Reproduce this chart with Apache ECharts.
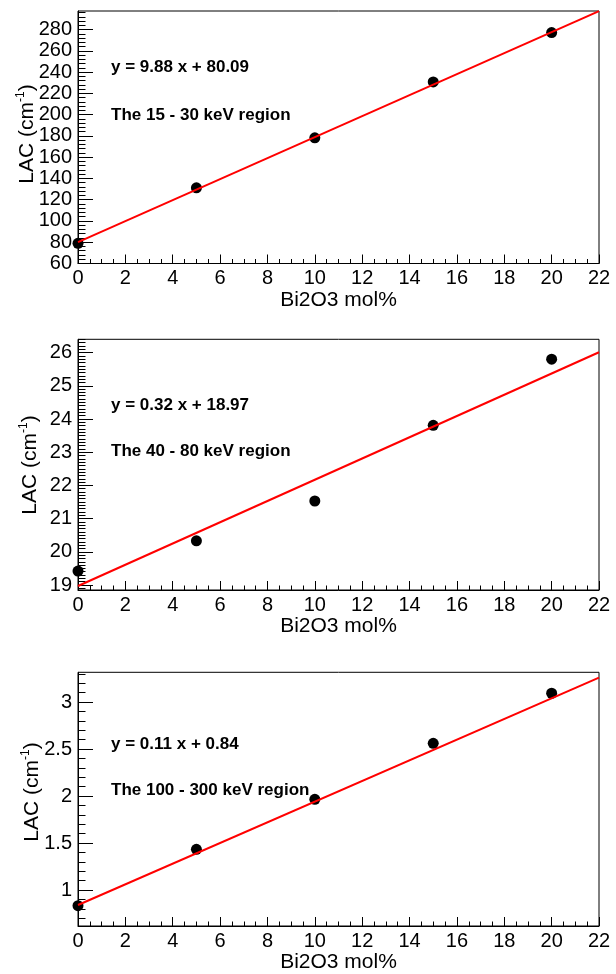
<!DOCTYPE html>
<html>
<head>
<meta charset="utf-8">
<script src="https://cdn.jsdelivr.net/npm/echarts@6/dist/echarts.min.js"></script>
<style>
  html, body { margin: 0; padding: 0; background: #fff; }
  #chart { width: 616px; height: 974px; }
</style>
</head>
<body>
<div id="chart"></div>
<script>
// Bi2O3 content of the glass samples (mol%)
const bi2o3 = [0, 5, 10, 15, 20];

// Linear attenuation coefficients (cm^-1) per energy region
const lacLow  = [79.0, 131.2, 178.2, 230.8, 277.2];   // 15 - 30 keV
const lacMid  = [19.42, 20.33, 21.53, 23.81, 25.80];  // 40 - 80 keV
const lacHigh = [0.833, 1.433, 1.965, 2.560, 3.093];  // 100 - 300 keV

// Linear fits y = slope * x + intercept
const fitLow  = { slope: 9.88, intercept: 80.09 };
const fitMid  = { slope: 0.32, intercept: 18.97 };
const fitHigh = { slope: 0.11, intercept: 0.84 };

const regionLow  = 'The 15 - 30 keV region';
const regionMid  = 'The 40 - 80 keV region';
const regionHigh = 'The 100 - 300 keV region';

// Axis ranges and labelled ticks
const xRange = [0, 22];
const xTicks = [0, 2, 4, 6, 8, 10, 12, 14, 16, 18, 20, 22];
const yRangeLow  = [60, 297.5];
const yRangeMid  = [18.85, 26.4];
const yRangeHigh = [0.617, 3.316];
const yTicksLow  = [60, 80, 100, 120, 140, 160, 180, 200, 220, 240, 260, 280];
const yTicksMid  = [19, 20, 21, 22, 23, 24, 25, 26];
const yTicksHigh = [1, 1.5, 2, 2.5, 3];
const yMinorStepLow = 4, yMinorStepMid = 0.1, yMinorStepHigh = 0.1;

const xTitle = 'Bi2O3 mol%';
const yTitle = '{a|LAC (cm}{s|-1}{a|)}';

const FONT = "'Liberation Sans', Arial, Helvetica, sans-serif";

// evenly spaced minor tick positions inside a range
function minorValues(range, step) {
  const out = [];
  let v = Math.ceil(range[0] / step - 1e-9) * step;
  while (v <= range[1] + 1e-9) {
    out.push(Math.round(v * 1e6) / 1e6);
    v += step;
  }
  return out;
}

const panels = [
  { top: 11,    height: 252.5, y: lacLow,  fit: fitLow,  region: regionLow,  yRange: yRangeLow,  yTicks: yTicksLow,  minor: yMinorStepLow,  textY: [67, 115],      yTitlePos: [27, 134] },
  { top: 339.3, height: 250.7, y: lacMid,  fit: fitMid,  region: regionMid,  yRange: yRangeMid,  yTicks: yTicksMid,  minor: yMinorStepMid,  textY: [405, 451.7],   yTitlePos: [30, 465] },
  { top: 672.3, height: 253.7, y: lacHigh, fit: fitHigh, region: regionHigh, yRange: yRangeHigh, yTicks: yTicksHigh, minor: yMinorStepHigh, textY: [744.3, 790.7], yTitlePos: [32, 792] }
];

// straight segment between two data points, placed through the axes' scales
function renderFitSegment(params, api) {
  const a = api.coord([api.value(0), api.value(1)]);
  const b = api.coord([api.value(2), api.value(3)]);
  return {
    type: 'line',
    shape: { x1: a[0], y1: a[1], x2: b[0], y2: b[1] },
    style: { stroke: '#ff0000', lineWidth: 2 }
  };
}

const grid = [], xAxis = [], yAxis = [], series = [], graphic = [];

panels.forEach((p, i) => {
  grid.push({
    left: 78, width: 521, top: p.top, height: p.height,
    show: true, borderColor: '#000', borderWidth: 1
  });

  xAxis.push({
    type: 'value', gridIndex: i, min: xRange[0], max: xRange[1], interval: 2,
    name: xTitle, nameLocation: 'middle', nameGap: 25,
    nameTextStyle: { fontFamily: FONT, fontSize: 21, color: '#000' },
    axisLine: { show: true, onZero: false, lineStyle: { color: '#000', width: 1 } },
    axisTick: { show: true, inside: true, length: 9, lineStyle: { color: '#000', width: 1 } },
    minorTick: { show: true, splitNumber: 4, length: 4.5, lineStyle: { color: '#000', width: 1 } },
    axisLabel: { fontFamily: FONT, fontSize: 20, color: '#000', margin: 5, customValues: xTicks },
    splitLine: { show: false }
  });

  // major ticks and labels
  yAxis.push({
    type: 'value', gridIndex: i, position: 'left', offset: 0,
    min: p.yRange[0], max: p.yRange[1],
    axisLine: { show: true, onZero: false, lineStyle: { color: '#000', width: 1 } },
    axisTick: { show: true, inside: true, length: 15, customValues: p.yTicks, lineStyle: { color: '#000', width: 1 } },
    axisLabel: { fontFamily: FONT, fontSize: 20, color: '#000', margin: 6, customValues: p.yTicks },
    splitLine: { show: false }
  });
  // minor ticks
  yAxis.push({
    type: 'value', gridIndex: i, position: 'left', offset: 0,
    min: p.yRange[0], max: p.yRange[1],
    axisLine: { show: false, onZero: false },
    axisTick: { show: true, inside: true, length: 7.5, customValues: minorValues(p.yRange, p.minor), lineStyle: { color: '#000', width: 1 } },
    axisLabel: { show: false },
    splitLine: { show: false }
  });

  // measured points
  series.push({
    type: 'scatter', xAxisIndex: i, yAxisIndex: 2 * i,
    data: bi2o3.map((x, k) => [x, p.y[k]]),
    symbol: 'circle', symbolSize: 11, clip: false,
    itemStyle: { color: '#000', opacity: 1 }, z: 3
  });
  // fitted line over the full x range
  series.push({
    type: 'custom', xAxisIndex: i, yAxisIndex: 2 * i, z: 4,
    data: [[xRange[0], p.fit.slope * xRange[0] + p.fit.intercept,
            xRange[1], p.fit.slope * xRange[1] + p.fit.intercept]],
    renderItem: renderFitSegment
  });

  graphic.push({
    type: 'text', x: p.yTitlePos[0], y: p.yTitlePos[1], rotation: Math.PI / 2,
    style: {
      text: yTitle, align: 'center', verticalAlign: 'middle',
      rich: {
        a: { fontFamily: FONT, fontSize: 21, fill: '#000', lineHeight: 24 },
        s: { fontFamily: FONT, fontSize: 12, fill: '#000', lineHeight: 24, verticalAlign: 'top' }
      }
    }
  });
  graphic.push({
    type: 'text', x: 111, y: p.textY[0],
    style: { text: 'y = ' + p.fit.slope.toFixed(2) + ' x + ' + p.fit.intercept.toFixed(2),
             font: 'bold 17px ' + FONT, fill: '#000', textVerticalAlign: 'middle' }
  });
  graphic.push({
    type: 'text', x: 111, y: p.textY[1],
    style: { text: p.region, font: 'bold 17px ' + FONT, fill: '#000', textVerticalAlign: 'middle' }
  });
});

const chart = echarts.init(document.getElementById('chart'), null, { renderer: 'canvas' });
chart.setOption({
  backgroundColor: '#fff',
  animation: false,
  grid, xAxis, yAxis, series, graphic
});
</script>
</body>
</html>
